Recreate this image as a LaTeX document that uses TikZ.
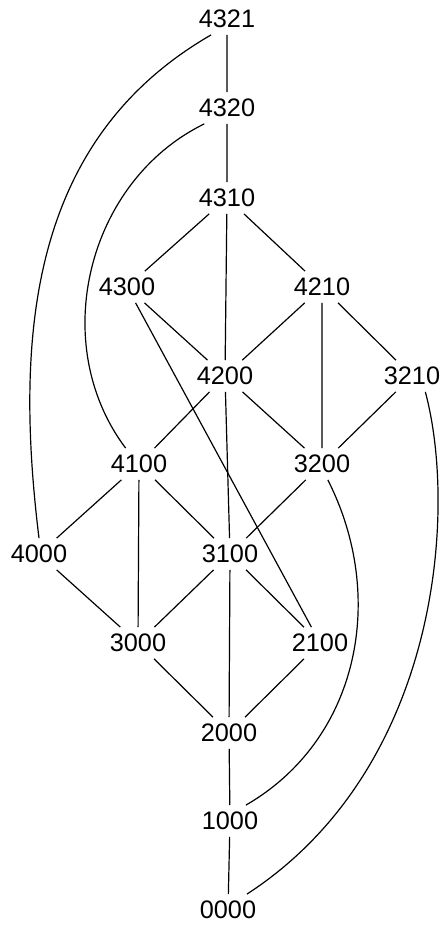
\documentclass[tikz,border=0pt]{standalone}
\usepackage{fontspec}
\setmainfont{Liberation Sans}
\usetikzlibrary{positioning}

\begin{document}
\begin{tikzpicture}[x=0.025cm, y=-0.025cm, line width=0.85pt,
  every node/.style={font=\fontsize{18}{18}\selectfont},
  state/.style={rectangle, inner xsep=3pt, inner ysep=4.5pt}]
  \useasboundingbox (0,0) rectangle (444,925);
  % lattice nodes
  \node[state] (s4321) at (227,19) {4321};
  \node[state] (s4320) at (227,108) {4320};
  \node[state] (s4310) at (227,198) {4310};
  \node[state] (s4300) at (127,287) {4300};
  \node[state] (s4210) at (322,287) {4210};
  \node[state] (s4200) at (225,376) {4200};
  \node[state] (s3210) at (412,376) {3210};
  \node[state] (s4100) at (139,464) {4100};
  \node[state] (s3200) at (322,464) {3200};
  \node[state] (s4000) at (39,554) {4000};
  \node[state] (s3100) at (230,554) {3100};
  \node[state] (s3000) at (138,643) {3000};
  \node[state] (s2100) at (320,643) {2100};
  \node[state] (s2000) at (229,733) {2000};
  \node[state] (s1000) at (230,821) {1000};
  \node[state] (s0000) at (228,910) {0000};
  % straight edges
  \draw (s4321) -- (s4320) -- (s4310) -- (s4200) -- (s3100) -- (s2000) -- (s1000) -- (s0000);
  \draw (s4310) -- (s4300) -- (s4200) -- (s4210) -- (s4310);
  \draw (s4210) -- (s3210) -- (s3200) -- (s4210);
  \draw (s4200) -- (s4100) -- (s3000) -- (s4000) -- (s4100) -- (s3100);
  \draw (s4200) -- (s3200) -- (s3100) -- (s3000) -- (s2000) -- (s2100) -- (s3100);
  \draw (s4300) -- (s2100);
  % curved edges
  \draw (s4321.225) to[out=210, in=97] (s4000.north);
  \draw (s4320.215) to[out=206, in=127] (s4100.130);
  \draw (s3200.290) to[out=297, in=30] (s1000.45);
  \draw (s3210.310) to[out=285, in=33, out looseness=0.6, in looseness=1.1] (s0000.40);
\end{tikzpicture}
\end{document}
